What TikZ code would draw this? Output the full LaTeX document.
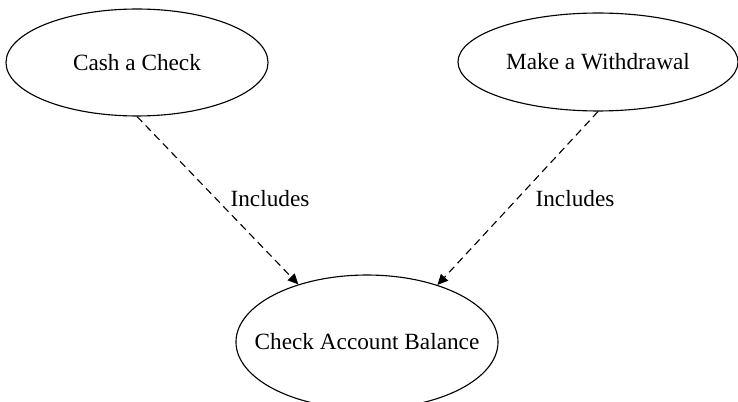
\documentclass[tikz,border=0pt]{standalone}
\usepackage{fontspec}
\setmainfont{Liberation Serif}
\usetikzlibrary{shapes.geometric,arrows.meta}
\begin{document}
\begin{tikzpicture}[x=0.6667pt,y=-0.6667pt,
  usecase/.style={draw,ellipse,line width=0.75pt,inner sep=0pt},
  casetext/.style={font=\fontsize{15.5}{18}\selectfont},
  includes/.style={draw,line width=0.75pt,dash pattern=on 5pt off 3.3pt,
    -{Triangle[length=7pt,width=6.5pt]}},
  edgelabel/.style={font=\fontsize{15.5}{18}\selectfont}]
  \useasboundingbox (0,0) rectangle (738,402);
  \node[usecase,minimum width=174.7pt,minimum height=71.3pt,
    label={[casetext]center:Cash a Check}] (cash) at (137,62.5) {};
  \node[usecase,minimum width=186.7pt,minimum height=65.3pt,
    label={[casetext]center:Make a Withdrawal}] (withdraw) at (598,62) {};
  \node[usecase,minimum width=174.7pt,minimum height=89.3pt,
    label={[casetext]center:Check Account Balance}] (balance) at (367,342) {};
  \draw[includes] (cash.south) -- (balance.140);
  \draw[includes] (withdraw.south) -- (balance.39);
  \node[edgelabel] (lab1) at (270,199) {Includes};
  \node[edgelabel] (lab2) at (575,199) {Includes};
\end{tikzpicture}
\end{document}
